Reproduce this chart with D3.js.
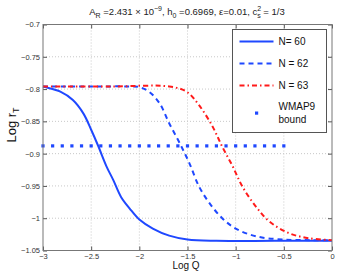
<!DOCTYPE html>
<html>
<head>
<meta charset="utf-8">
<script src="https://cdn.jsdelivr.net/npm/d3@7"></script>
<style>
  body { margin: 0; background: #fff; }
  svg { font-family: "Liberation Sans", Arial, sans-serif; }
  .grid line { stroke: #c8c8c8; stroke-dasharray: 1,2; }
</style>
</head>
<body>
<div id="chart"></div>
<script>
// curve samples: [log Q, log r_T]
const n60 = [[-3,-0.796],[-2.98,-0.797],[-2.82,-0.804],[-2.69,-0.817],[-2.58,-0.838],[-2.5,-0.863],
  [-2.43,-0.887],[-2.34,-0.920],[-2.27,-0.941],[-2.19,-0.967],[-2.1,-0.985],[-2.0,-1.002],
  [-1.86,-1.016],[-1.69,-1.027],[-1.5,-1.033],[-1.2,-1.035],[-0.6,-1.035],[0,-1.035]];
const n62 = [[-3,-0.796],[-2.5,-0.796],[-2.1,-0.796],[-2.0,-0.797],[-1.9,-0.804],[-1.79,-0.822],
  [-1.69,-0.853],[-1.58,-0.884],[-1.48,-0.915],[-1.38,-0.951],[-1.27,-0.977],[-1.14,-1.0],
  [-1.0,-1.016],[-0.79,-1.028],[-0.51,-1.033],[-0.2,-1.034],[0,-1.034]];
const n63 = [[-3,-0.796],[-2.3,-0.796],[-1.69,-0.796],[-1.51,-0.804],[-1.38,-0.825],[-1.24,-0.858],
  [-1.14,-0.889],[-1.03,-0.920],[-0.93,-0.951],[-0.79,-0.982],[-0.65,-1.005],[-0.45,-1.023],
  [-0.24,-1.031],[0,-1.034]];
const wmapQ = [-3, -2.9, -2.8, -2.7, -2.6, -2.5, -2.4, -2.3, -2.2, -2.1, -2, -1.9, -1.8,
  -1.7, -1.6, -1.5, -1.4, -1.3, -1.2, -1.1, -1, -0.9, -0.8, -0.7, -0.6, -0.5];
const wmapR = -0.888;
const xTicks = [-3, -2.5, -2, -1.5, -1, -0.5, 0];
const yTicks = [-0.7, -0.75, -0.8, -0.85, -0.9, -0.95, -1, -1.05];
const legendNames = ["N= 60", "N = 62", "N = 63"];

const W = 337, H = 273;
const margin = {top: 24.5, right: 5, bottom: 22.5, left: 43};
const w = W - margin.left - margin.right, h = H - margin.top - margin.bottom;
const blue = "#1f48ff", red = "#ff1a1a";

const svg = d3.select("#chart").append("svg").attr("width", W).attr("height", H);
const g = svg.append("g").attr("transform", "translate(" + margin.left + "," + margin.top + ")");

const x = d3.scaleLinear().domain([-3, 0]).range([0, w]);
const y = d3.scaleLinear().domain([-1.05, -0.7]).range([h, 0]);
const fmt = d => String(d).replace("-", "\u2212");

// grid
g.append("g").attr("class", "grid")
  .selectAll("line").data(xTicks.slice(1, -1)).enter().append("line")
  .attr("x1", d => x(d)).attr("x2", d => x(d)).attr("y1", 0).attr("y2", h);
g.append("g").attr("class", "grid")
  .selectAll("line").data(yTicks.slice(1, -1)).enter().append("line")
  .attr("x1", 0).attr("x2", w).attr("y1", d => y(d)).attr("y2", d => y(d));

// axes (ticks inside, matlab style)
function styleAxis(sel) {
  sel.select(".domain").remove();
  sel.selectAll(".tick line").attr("stroke", "#555");
  sel.selectAll(".tick text").attr("fill", "#333").attr("font-size", 7.5);
}
g.append("g").attr("transform", "translate(0," + h + ")")
  .call(d3.axisBottom(x).tickValues(xTicks).tickFormat(fmt).tickSizeInner(-4).tickSizeOuter(0).tickPadding(3))
  .call(styleAxis);
g.append("g")
  .call(d3.axisTop(x).tickValues(xTicks).tickFormat("").tickSizeInner(-4).tickSizeOuter(0))
  .call(styleAxis);
g.append("g")
  .call(d3.axisLeft(y).tickValues(yTicks).tickFormat(fmt).tickSizeInner(-4).tickSizeOuter(0).tickPadding(3))
  .call(styleAxis);
g.append("g").attr("transform", "translate(" + w + ",0)")
  .call(d3.axisRight(y).tickValues(yTicks).tickFormat("").tickSizeInner(-4).tickSizeOuter(0))
  .call(styleAxis);

// curves
const line = d3.line().x(d => x(d[0])).y(d => y(d[1])).curve(d3.curveCatmullRom.alpha(0.5));
g.append("path").datum(n60).attr("d", line).attr("fill", "none")
  .attr("stroke", blue).attr("stroke-width", 2);
g.append("path").datum(n62).attr("d", line).attr("fill", "none")
  .attr("stroke", blue).attr("stroke-width", 2).attr("stroke-dasharray", "5,4");
g.append("path").datum(n63).attr("d", line).attr("fill", "none")
  .attr("stroke", red).attr("stroke-width", 2).attr("stroke-dasharray", "5,3,1.5,3");

// WMAP9 bound
g.selectAll(".wmap").data(wmapQ).enter().append("rect").attr("class", "wmap")
  .attr("x", d => x(d) - 1.6).attr("y", y(wmapR) - 1.6)
  .attr("width", 3.2).attr("height", 3.2).attr("fill", blue);

// frame
g.append("rect").attr("width", w).attr("height", h)
  .attr("fill", "none").attr("stroke", "#777").attr("stroke-width", 1);

// legend
const lg = svg.append("g").attr("transform", "translate(232.5,29.5)");
lg.append("rect").attr("width", 94).attr("height", 103)
  .attr("fill", "#fff").attr("stroke", "#555").attr("stroke-width", 1);
const legendStyles = [
  {c: blue, dash: null}, {c: blue, dash: "5,4"}, {c: red, dash: "5,3,1.5,3"}];
legendNames.forEach(function(name, i) {
  const yy = 12 + i * 22;
  lg.append("line").attr("x1", 7).attr("x2", 41).attr("y1", yy).attr("y2", yy)
    .attr("stroke", legendStyles[i].c).attr("stroke-width", 2)
    .attr("stroke-dasharray", legendStyles[i].dash);
  lg.append("text").attr("x", 46).attr("y", yy + 3.5).attr("font-size", 10)
    .attr("fill", "#111").text(name);
});
lg.append("rect").attr("x", 22.5).attr("y", 82).attr("width", 3.2).attr("height", 3.2).attr("fill", blue);
lg.append("text").attr("x", 46).attr("y", 80).attr("font-size", 10).attr("fill", "#111").text("WMAP9");
lg.append("text").attr("x", 46).attr("y", 93).attr("font-size", 10).attr("fill", "#111").text("bound");

// title
const t = svg.append("text").attr("x", 187).attr("y", 15).attr("text-anchor", "middle")
  .attr("font-size", 9.5).attr("fill", "#222");
t.append("tspan").text("A");
t.append("tspan").attr("font-size", 7).attr("dy", 2.5).text("R");
t.append("tspan").attr("dy", -2.5).text(" =2.431 \u00d7 10");
t.append("tspan").attr("font-size", 7).attr("dy", -4).text("\u22129");
t.append("tspan").attr("dy", 4).text(", h");
t.append("tspan").attr("font-size", 7).attr("dy", 2.5).text("0");
t.append("tspan").attr("dy", -2.5).text(" =0.6969, \u03b5=0.01, c");
t.append("tspan").attr("font-size", 7).attr("dy", -4).text("2");
t.append("tspan").attr("font-size", 7).attr("dx", -4).attr("dy", 6.5).text("s");
t.append("tspan").attr("dy", -2.5).text(" = 1/3");

// axis labels
svg.append("text").attr("x", 186).attr("y", 269).attr("text-anchor", "middle")
  .attr("font-size", 10).attr("fill", "#111").text("Log Q");
const yl = svg.append("text").attr("transform", "translate(16,125) rotate(-90)")
  .attr("text-anchor", "middle").attr("font-size", 13).attr("fill", "#111");
yl.append("tspan").text("Log r");
yl.append("tspan").attr("font-size", 9).attr("dy", 3).text("T");
</script>
</body>
</html>
